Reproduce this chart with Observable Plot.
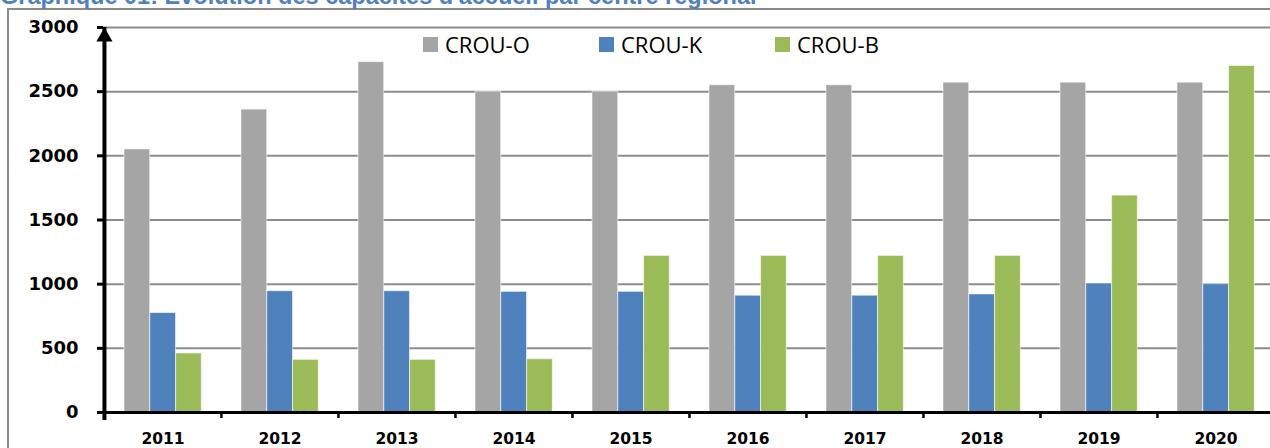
<!DOCTYPE html>
<html><head><meta charset="utf-8">
<script src="https://cdn.jsdelivr.net/npm/d3@7"></script>
<script src="https://cdn.jsdelivr.net/npm/@observablehq/plot@0.6"></script>
<style>
html,body{margin:0;padding:0;background:#fff;overflow:hidden;}
#wrap{position:relative;width:1270px;height:448px;overflow:hidden;background:#fff;}
#title{position:absolute;left:0;top:-15px;font:bold 23.5px "Liberation Sans",Arial,sans-serif;line-height:23.5px;color:#4F81BD;white-space:nowrap;}
#border{position:absolute;left:7px;top:8px;width:1300px;height:470px;border:2px solid #8a8a8a;box-sizing:border-box;}
#legend{position:absolute;left:423px;top:29px;display:flex;font:22px "Open Sans",sans-serif;line-height:30px;color:#000;}
.item{display:flex;align-items:center;width:176px;}
.sw{width:15px;height:15px;margin-right:7px;}
#chart{position:absolute;left:0;top:0;}
</style></head>
<body><div id="wrap"><div id="border"></div><div id="chart"></div><div id="legend"></div><div id="title">Graphique 01: Evolution des capacités d'accueil par centre régional</div></div>
<script>
const years = ["2011","2012","2013","2014","2015","2016","2017","2018","2019","2020"];
const crouO = [2050, 2360, 2730, 2500, 2500, 2550, 2550, 2570, 2570, 2570];
const crouK = [775, 945, 945, 940, 940, 910, 910, 920, 1005, 1000];
const crouB = [460, 410, 410, 415, 1220, 1220, 1220, 1220, 1690, 2700];
const seriesNames = ["CROU-O", "CROU-K", "CROU-B"];
const seriesColors = ["#A5A5A5", "#4F81BD", "#9BBB59"];
const yTicks = [0, 500, 1000, 1500, 2000, 2500, 3000];

const seriesValues = [crouO, crouK, crouB];
const W = 1270, H = 448, mL = 103, mT = 27, mB = 36;
const xRange = [103, 1274];
const step = (xRange[1] - xRange[0]) / years.length;
const off = 20, bw = 25.8;
const plotH = H - mT - mB;

const barMarks = seriesValues.map((arr, i) =>
  Plot.barY(years.map((y, j) => ({year: y, value: arr[j]})), {
    x: "year", y: "value", fill: seriesColors[i],
    stroke: "white", strokeOpacity: 0.55, strokeWidth: 1,
    insetLeft: off + i * bw, insetRight: step - off - (i + 1) * bw
  })
);

const chart = Plot.plot({
  width: W, height: H,
  marginLeft: mL, marginRight: 0, marginTop: mT, marginBottom: mB,
  style: {fontFamily: "DejaVu Sans", background: "transparent", overflow: "visible", color: "#000"},
  x: {type: "band", domain: years, range: xRange, padding: 0, axis: null, label: null},
  y: {domain: [0, 3000], axis: null, label: null},
  marks: [
    Plot.ruleY(yTicks.filter(d => d > 0), {y: d => d, stroke: "#8c8c8c", strokeWidth: 2}),
    ...barMarks,
    Plot.ruleY([0], {y: d => d, stroke: "#000", strokeWidth: 3}),
    Plot.ruleX(years, {x: d => d, dx: -step / 2, stroke: "#000", strokeWidth: 2.5, insetTop: plotH, insetBottom: -6}),
    Plot.ruleX([years[0]], {x: d => d, dx: -step / 2, y1: 0, y2: 3000, stroke: "#000", strokeWidth: 4, insetTop: 8}),
    Plot.dot([years[0]], {x: d => d, y: () => 3000, dx: -step / 2, dy: 9.3, symbol: "triangle", r: 6, fill: "#000", stroke: "none"}),
    Plot.axisY({ticks: yTicks, tickSize: 6, tickPadding: 19, tickFormat: d => String(d), fontSize: 18, fontWeight: "bold", strokeWidth: 3, label: null}),
    Plot.axisX({tickSize: 0, tickPadding: 20, fontSize: 15.5, fontWeight: "bold", label: null})
  ]
});
document.getElementById("chart").appendChild(chart);

const legend = document.getElementById("legend");
seriesNames.forEach((n, i) => {
  const it = document.createElement("div");
  it.className = "item";
  const sw = document.createElement("div");
  sw.className = "sw";
  sw.style.background = seriesColors[i];
  const t = document.createElement("span");
  t.textContent = n;
  it.appendChild(sw); it.appendChild(t);
  legend.appendChild(it);
});
</script>
</body></html>
